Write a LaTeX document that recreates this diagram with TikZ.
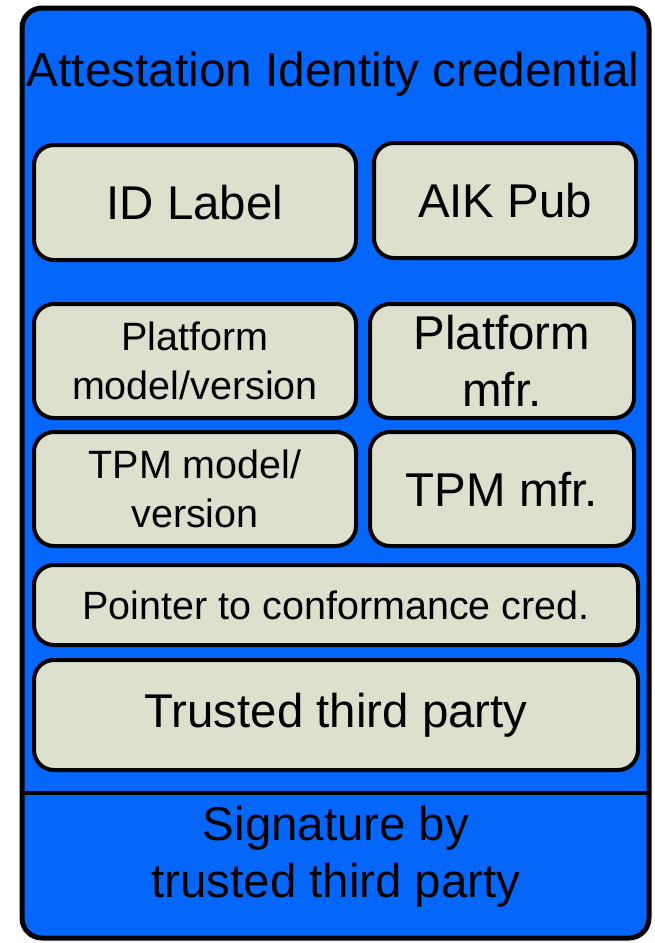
\documentclass[tikz,border=0pt]{standalone}
\usepackage{fontspec}
\setmainfont{Liberation Sans}
\definecolor{credblue}{RGB}{5,102,250}
\definecolor{fieldfill}{RGB}{221,224,205}
\begin{document}
\begin{tikzpicture}[x=1pt,y=-1pt,
  frame/.style={draw=black, line width=5pt, fill=credblue, rounded corners=20pt, inner sep=0pt},
  field/.style={draw=black, line width=4pt, fill=fieldfill, rounded corners=20pt, inner sep=0pt, align=center},
  bigtext/.style={font=\fontsize{47.4}{57}\selectfont},
  smalltext/.style={font=\fontsize{39.5}{49}\selectfont},
  plain/.style={inner sep=0pt, align=center}]
\useasboundingbox (0,0) rectangle (655,943);
% outer credential frame
\node[frame, minimum width=627pt, minimum height=930pt] (frame) at (335.5,473) {};
\coordinate (divl) at (20,793);
\coordinate (divr) at (651,793);
\draw[line width=4.5pt] (divl) -- (divr);
% title
\node[plain, font=\fontsize{47.7}{57}\selectfont] (title) at (333,74) {Attestation Identity credential};
% fields
\node[field, bigtext, minimum width=322pt, minimum height=115pt] (idlabel) at (195,202.5) {ID Label};
\node[field, bigtext, minimum width=262pt, minimum height=115pt] (aikpub) at (505,200.5) {AIK Pub};
\node[field, smalltext, minimum width=322pt, minimum height=114pt] (platmodel) at (195,361) {Platform\\model/version};
\node[field, bigtext, minimum width=264pt, minimum height=114pt] (platmfr) at (502,361) {Platform\\mfr.};
\node[field, smalltext, minimum width=322pt, minimum height=114pt] (tpmmodel) at (195,489) {TPM model/\\version};
\node[field, bigtext, minimum width=264pt, minimum height=114pt] (tpmmfr) at (502,489) {TPM mfr.};
\node[field, smalltext, minimum width=604pt, minimum height=80pt] (pointer) at (336,605) {Pointer to conformance cred.};
\node[field, bigtext, minimum width=604pt, minimum height=110pt] (ttp) at (336,715) {Trusted third party};
% signature part
\node[plain, bigtext] (sig) at (336,857) {Signature by\\trusted third party};
\end{tikzpicture}
\end{document}
